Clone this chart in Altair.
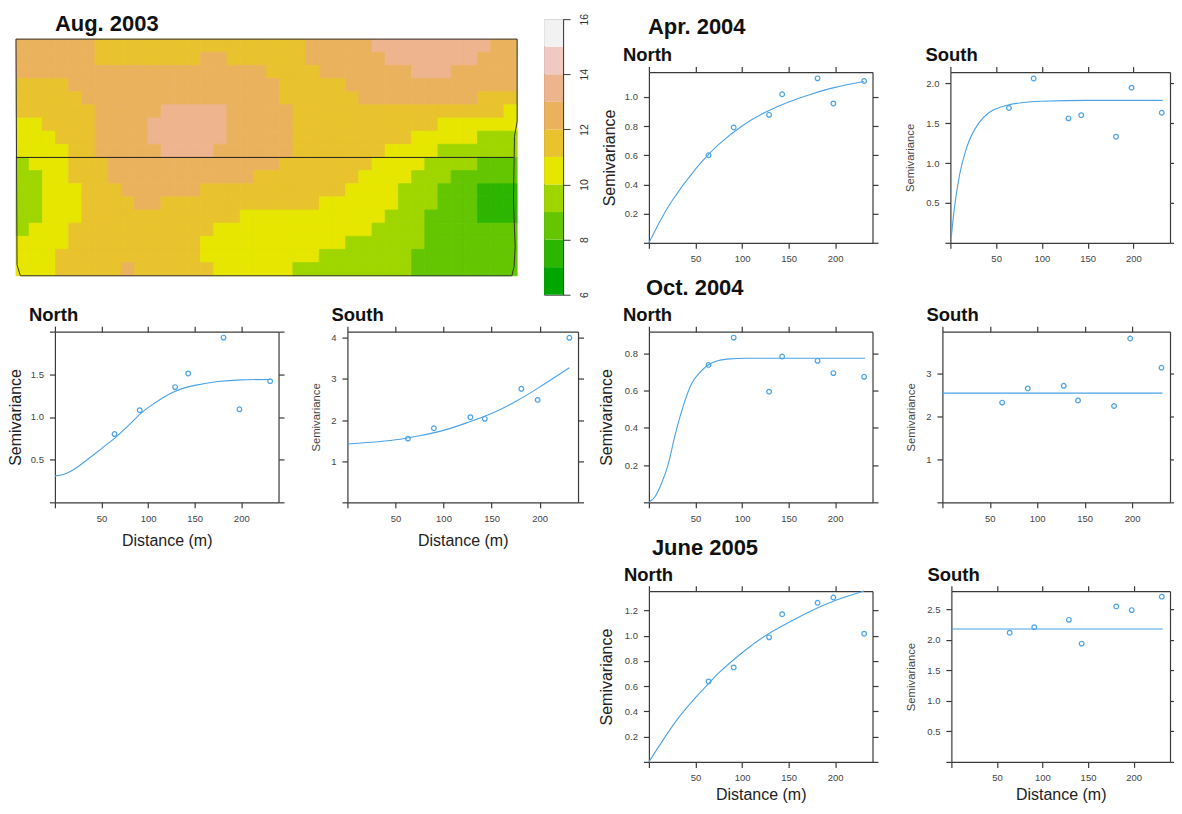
import altair as alt
import pandas as pd

FONT = "Liberation Sans"
BLUE = "#4aa3e8"
INK = "#3a3a3a"

# ---- heat map: runs of (class, number of cells) per row, top to bottom
grid_runs = [
    [(12, 6), (11, 16), (12, 5), (13, 9), (12, 2)],
    [(12, 6), (11, 8), (12, 2), (11, 6), (12, 6), (13, 7), (12, 3)],
    [(12, 19), (11, 4), (12, 7), (13, 3), (12, 5)],
    [(11, 4), (12, 16), (11, 5), (12, 13)],
    [(11, 5), (12, 15), (11, 6), (12, 9), (11, 3)],
    [(11, 6), (12, 5), (13, 5), (12, 5), (11, 16), (10, 1)],
    [(10, 2), (11, 4), (12, 4), (13, 6), (12, 5), (11, 11), (10, 6)],
    [(10, 3), (11, 3), (12, 4), (13, 6), (12, 5), (11, 9), (10, 5), (9, 3)],
    [(10, 4), (11, 2), (12, 5), (13, 4), (12, 6), (11, 7), (10, 4), (9, 6)],
    [(9, 1), (10, 3), (11, 3), (12, 13), (11, 7), (10, 4), (9, 4), (8, 3)],
    [(9, 2), (10, 2), (11, 3), (12, 11), (11, 8), (10, 4), (9, 3), (8, 5)],
    [(9, 2), (10, 3), (11, 3), (12, 6), (11, 11), (10, 4), (9, 3), (8, 3), (7, 3)],
    [(9, 2), (10, 3), (11, 4), (12, 2), (11, 12), (10, 6), (9, 3), (8, 3), (7, 3)],
    [(9, 2), (10, 3), (11, 12), (10, 11), (9, 3), (8, 4), (7, 3)],
    [(9, 1), (10, 3), (11, 11), (10, 12), (9, 4), (8, 7)],
    [(10, 4), (11, 10), (10, 11), (9, 6), (8, 7)],
    [(10, 3), (11, 11), (10, 9), (9, 7), (8, 8)],
    [(10, 3), (11, 5), (12, 1), (11, 6), (10, 6), (9, 9), (8, 8)],
]
class_values = [6, 7, 8, 9, 10, 11, 12, 13, 14, 15]
class_colors = ["#00A600", "#2DB600", "#63C600", "#A0D600", "#E6E600",
                "#E8C32E", "#EBB25E", "#EDB48E", "#F0C9C0", "#F2F2F2"]
outline_col = [0, 38, 38, 37.8, 37.72, 37.85, 37.77, 37.6, 0.33, 0.08, 0]
outline_row = [0, 0, 6.28, 7.4, 12.25, 15.77, 17.3, 18, 18, 17.16, 0]
divider_col = [0, 37.75]
divider_row = [9, 9]
bar_ticks = [6, 8, 10, 12, 14, 16]

# ---- semivariograms: lag distances
dist = [64, 91, 129, 143, 181, 198, 231]
dist_s = [63, 90, 128, 143, 181, 198, 231]

aug_n_pts = [0.80, 1.08, 1.35, 1.51, 1.93, 1.09, 1.42]
aug_n_cx = [0, 10, 25, 50, 64, 75, 91, 100, 125, 150, 175, 200, 231]
aug_n_cy = [0.31, 0.33, 0.42, 0.63, 0.75, 0.86, 1.03, 1.11, 1.28, 1.37, 1.415, 1.435, 1.44]

aug_s_pts = [1.55, 1.80, 2.07, 2.03, 2.76, 2.49, 4.00]
aug_s_cx = [0, 25, 50, 75, 100, 125, 150, 175, 200, 231]
aug_s_cy = [1.42, 1.46, 1.52, 1.62, 1.75, 1.94, 2.16, 2.45, 2.80, 3.27]

apr_n_pts = [0.60, 0.79, 0.877, 1.018, 1.127, 0.955, 1.109]
apr_n_cx = [0, 10, 25, 50, 64, 75, 100, 125, 150, 175, 200, 231]
apr_n_cy = [0, 0.125, 0.29, 0.505, 0.605, 0.675, 0.80, 0.895, 0.965, 1.02, 1.065, 1.105]

apr_s_pts = [1.69, 2.06, 1.56, 1.60, 1.33, 1.945, 1.63]
apr_s_cx = [1, 4, 10, 18, 31, 42, 50, 64, 85, 100, 150, 232]
apr_s_cy = [0.07, 0.40, 0.85, 1.20, 1.50, 1.63, 1.68, 1.73, 1.765, 1.775, 1.785, 1.785]

oct_n_pts = [0.739, 0.886, 0.595, 0.784, 0.761, 0.695, 0.675]
oct_n_cx = [0, 6.5, 13.7, 21, 28, 37, 46, 55, 64, 73, 84, 105, 232]
oct_n_cy = [0, 0.03, 0.104, 0.21, 0.36, 0.52, 0.64, 0.70, 0.74, 0.76, 0.77, 0.775, 0.775]

oct_s_pts = [2.32, 2.65, 2.71, 2.37, 2.24, 3.81, 3.13]
oct_s_cx = [0, 232]
oct_s_cy = [2.54, 2.54]

jun_n_pts = [0.638, 0.749, 0.987, 1.171, 1.261, 1.303, 1.016]
jun_n_cx = [0, 18.5, 34, 50, 64, 75, 100, 125, 150, 175, 200, 231]
jun_n_cy = [0, 0.21, 0.37, 0.51, 0.62, 0.705, 0.865, 1.0, 1.105, 1.20, 1.28, 1.355]

jun_s_pts = [2.12, 2.21, 2.33, 1.94, 2.55, 2.49, 2.71]
jun_s_cx = [0, 232]
jun_s_cy = [2.18, 2.18]


def spacer(w=1, h=1):
    return (alt.Chart(pd.DataFrame({"a": [0]})).mark_point(opacity=0)
            .encode(x=alt.value(0), y=alt.value(0))
            .properties(width=w, height=h))


def panel(name, xs, pts, cx, cy, ymax, yticks, fmt, title_dx, ytitle_x, ytitle_size,
          width=224, height=171, xtitle=False, xmax=240, interp="natural", xtitle_y=38):
    xscale = alt.Scale(domain=[0, xmax], nice=False, zero=False)
    yscale = alt.Scale(domain=[0, ymax], nice=False, zero=False)
    top = max(yticks)
    expr = f"datum.value > 0 && datum.value < {ymax if ymax > top else top} ? format(datum.value, '{fmt}') : ''"
    common = dict(domainColor=INK, tickColor=INK, domainWidth=1.2, tickWidth=1.2, tickSize=5.5, grid=False)
    xbottom = alt.Axis(orient="bottom", values=[0, 50, 100, 150, 200], labelExpr="datum.value > 0 ? datum.label : ''",
                       labelFontSize=9.5, labelColor="#444",
                       labelFont=FONT, labelPadding=5.5, labelFlush=False, labelOverlap=False,
                       title="Distance (m)" if xtitle else None, titleFont=FONT, titleFontSize=16,
                       titleFontWeight="normal", titleColor="#222", titleBaseline="middle", titleY=xtitle_y,
                       **common)
    yleft = alt.Axis(orient="left", values=yticks, labelExpr=expr, labelFontSize=9.5, labelColor="#444",
                     labelFont=FONT, labelPadding=6, labelOverlap=False, labelFlush=False,
                     title="Semivariance", titleFont=FONT, titleFontSize=ytitle_size, titleFontWeight="normal",
                     titleColor="#222" if ytitle_size > 14 else "#444", titleBaseline="middle", titleX=ytitle_x,
                     **common)
    xtop = alt.Axis(orient="top", values=[0, 50, 100, 150, 200], labels=False, title=None, **common)
    yright = alt.Axis(orient="right", values=yticks, labels=False, title=None, **common)

    curve = pd.DataFrame({"d": cx, "g": cy})
    dots = pd.DataFrame({"d": xs, "g": pts})
    line = alt.Chart(curve).mark_line(color=BLUE, strokeWidth=1.1, interpolate=interp, clip=False).encode(
        x=alt.X("d:Q", scale=xscale, axis=xbottom),
        y=alt.Y("g:Q", scale=yscale, axis=yleft),
    )
    points = alt.Chart(dots).mark_point(color=BLUE, size=22, strokeWidth=1.2, filled=False, opacity=1).encode(
        x=alt.X("d:Q", scale=xscale, axis=xtop),
        y=alt.Y("g:Q", scale=yscale, axis=yright),
    )
    return (alt.layer(line, points)
            .resolve_axis(x="independent", y="independent")
            .properties(width=width, height=height,
                        title=alt.Title(name, anchor="start", frame="group", dx=title_dx, dy=3, font=FONT, fontSize=18.5,
                                        fontWeight="bold", color="#111", offset=4)))


# ---- heat map frame
cells = []
for r, runs in enumerate(grid_runs):
    c = 0
    for value, n in runs:
        for _ in range(n):
            cells.append({"c": c, "c2": c + 1, "r": r, "r2": r + 1, "v": value})
            c += 1
cells = pd.DataFrame(cells)
hx = alt.Scale(domain=[0, 38], nice=False, zero=False)
hy = alt.Scale(domain=[-1.52, 19.44], nice=False, zero=False, reverse=True)
hcolor = alt.Scale(domain=class_values, range=class_colors)
rects = alt.Chart(cells).mark_rect(strokeWidth=0.8).encode(
    x=alt.X("c:Q", scale=hx, axis=None), x2="c2:Q",
    y=alt.Y("r:Q", scale=hy, axis=None), y2="r2:Q",
    color=alt.Color("v:O", scale=hcolor, legend=None),
    stroke=alt.Stroke("v:O", scale=hcolor, legend=None),
)
outline = alt.Chart(pd.DataFrame({"c": outline_col, "r": outline_row, "i": range(len(outline_col))})).mark_line(
    color="#333", strokeWidth=1).encode(
    x=alt.X("c:Q", scale=hx, axis=None), y=alt.Y("r:Q", scale=hy, axis=None), order="i:Q")
divider = alt.Chart(pd.DataFrame({"c": divider_col, "r": divider_row})).mark_line(
    color="#222", strokeWidth=1).encode(
    x=alt.X("c:Q", scale=hx, axis=None), y=alt.Y("r:Q", scale=hy, axis=None))
heat = alt.layer(rects, outline, divider).properties(
    width=502, height=276,
    title=alt.Title("Aug. 2003", anchor="start", frame="group", dx=39, dy=20.5, font=FONT, fontSize=22,
                    fontWeight="bold", color="#111"),
)

# ---- colour bar
bar_df = pd.DataFrame({"lo": class_values, "hi": [v + 1 for v in class_values], "a": 0, "b": 1})
bar = alt.Chart(bar_df).mark_rect().encode(
    x=alt.X("a:Q", scale=alt.Scale(domain=[0, 1], nice=False), axis=None), x2="b:Q",
    y=alt.Y("lo:Q", scale=alt.Scale(domain=[6, 16], nice=False, zero=False),
            axis=alt.Axis(orient="right", values=bar_ticks, labelAngle=270, labelFont=FONT, labelFontSize=10.5,
                          labelColor="#333", tickSize=7, tickColor=INK, domainColor=INK, labelPadding=9,
                          labelOverlap=False, labelFlush=False, grid=False, title=None, format="d")),
    y2="hi:Q",
    color=alt.Color("lo:O", scale=alt.Scale(domain=class_values, range=class_colors), legend=None),
).properties(width=19, height=276, view=alt.ViewConfig(stroke=INK))

FLUSH = dict(bounds="flush")

aug_n = panel("North", dist, aug_n_pts, aug_n_cx, aug_n_cy, 2.0, [0, 0.5, 1.0, 1.5, 2.0], ".1f", -26, -39, 16, xtitle=True)
aug_s = panel("South", dist_s, aug_s_pts, aug_s_cx, aug_s_cy, 4.15, [0, 1, 2, 3, 4], "d", -16, -31, 11.3, width=231, xtitle=True)
apr_n = panel("North", dist, apr_n_pts, apr_n_cx, apr_n_cy, 1.17, [0, 0.2, 0.4, 0.6, 0.8, 1.0], ".1f", -26, -39, 16)
apr_s = panel("South", dist, apr_s_pts, apr_s_cx, apr_s_cy, 2.14, [0, 0.5, 1.0, 1.5, 2.0], ".1f", -25, -39.6, 11.3, interp="monotone", width=220)
oct_n = panel("North", dist, oct_n_pts, oct_n_cx, oct_n_cy, 0.918, [0, 0.2, 0.4, 0.6, 0.8], ".1f", -26, -42, 16, interp="monotone")
oct_s = panel("South", dist_s, oct_s_pts, oct_s_cx, oct_s_cy, 3.97, [0, 1, 2, 3], "d", -16, -31, 11.3, width=228)
jun_n = panel("North", dist, jun_n_pts, jun_n_cx, jun_n_cy, 1.353, [0, 0.2, 0.4, 0.6, 0.8, 1.0, 1.2], ".1f", -25, -42, 16, xtitle=True, xtitle_y=33)
jun_s = panel("South", dist, jun_s_pts, jun_s_cx, jun_s_cy, 2.8, [0, 0.5, 1.0, 1.5, 2.0, 2.5], ".1f", -24, -40, 11.3, xtitle=True, xtitle_y=33, width=219)


def year(text, dx, dy):
    return alt.Title(text, anchor="start", frame="group", dx=dx, dy=dy, font=FONT, fontSize=22, fontWeight="bold", color="#111")


row_apr = alt.hconcat(apr_n, apr_s, spacing=78, **FLUSH).properties(title=year("Apr. 2004", -1, -3.5))
row_oct = alt.hconcat(oct_n, oct_s, spacing=70, **FLUSH).properties(title=year("Oct. 2004", -3, -2))
row_jun = alt.hconcat(jun_n, jun_s, spacing=79, **FLUSH).properties(title=year("June 2005", 3, -2))
right_rows = alt.vconcat(row_apr, row_oct, row_jun, spacing=260, **FLUSH)
right = alt.vconcat(spacer(), right_rows, spacing=52, **FLUSH)

left_top = alt.hconcat(heat, bar, spacing=27, **FLUSH)
left_pair = alt.hconcat(aug_n, aug_s, spacing=69, **FLUSH)
left_bottom = alt.hconcat(spacer(), left_pair, spacing=38, **FLUSH)
left = alt.vconcat(left_top, left_bottom, spacing=313, **FLUSH)

chart = (alt.hconcat(left, right, spacing=634, **FLUSH)
         .properties(padding={"left": 0, "top": 3.5, "right": -3, "bottom": 0}, background="white")
         .configure_view(stroke=None))

chart.save("out.html", embed_options={"renderer": "svg", "actions": False})
